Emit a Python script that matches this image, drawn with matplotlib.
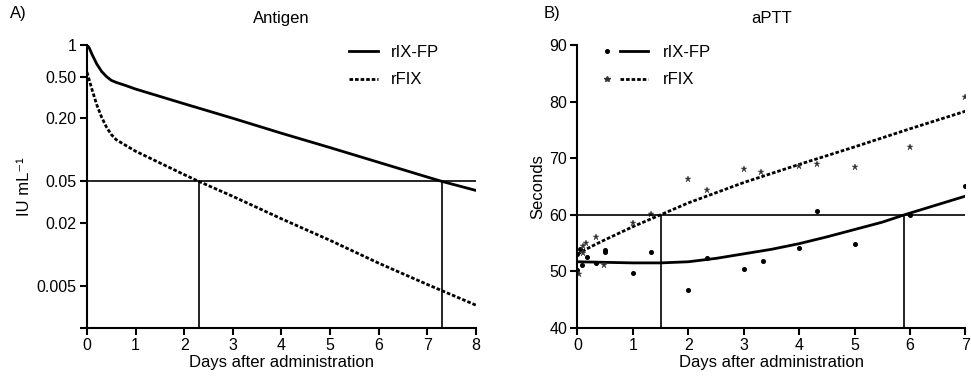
import matplotlib
matplotlib.use("Agg")
import matplotlib.pyplot as plt
from matplotlib.lines import Line2D
from matplotlib.legend_handler import HandlerTuple

plt.rcParams['font.family'] = ['Liberation Sans', 'DejaVu Sans']
plt.rcParams['font.size'] = 12

# ---------------- A) Antigen ----------------
ag_fp_days = [0, 0.05, 0.1, 0.2, 0.3, 0.4, 0.5, 0.6, 0.8, 1, 2, 3, 4, 5, 6, 7, 7.3, 8]
ag_fp_vals = [1.0, 0.93, 0.82, 0.66, 0.56, 0.50, 0.46, 0.44, 0.41, 0.38,
              0.275, 0.20, 0.144, 0.105, 0.076, 0.055, 0.05, 0.041]
ag_fix_days = [0, 0.1, 0.2, 0.3, 0.4, 0.5, 0.6, 0.8, 1, 2, 2.3, 3, 4, 5, 6, 7, 8]
ag_fix_vals = [0.55, 0.38, 0.27, 0.205, 0.165, 0.14, 0.125, 0.11, 0.097,
               0.058, 0.05, 0.036, 0.022, 0.0137, 0.0083, 0.0052, 0.0033]
ag_level = 0.05
ag_cross = [2.3, 7.3]
ag_yticks = [1, 0.5, 0.2, 0.05, 0.02, 0.005, 0.002]
ag_ylabels = ['1', '0.50', '0.20', '0.05', '0.02', '0.005', '']

# ---------------- B) aPTT ----------------
ap_fp_days = [0, 0.5, 1, 1.5, 2, 2.5, 3, 3.5, 4, 4.5, 5, 5.5, 5.9, 6, 6.5, 7]
ap_fp_vals = [51.7, 51.6, 51.5, 51.5, 51.7, 52.3, 53.1, 53.9, 54.9, 56.1,
              57.4, 58.7, 60.0, 60.3, 61.8, 63.3]
ap_fix_days = [0, 0.1, 0.25, 0.5, 1, 1.5, 2, 3, 4, 5, 6, 7]
ap_fix_vals = [53.0, 53.6, 54.4, 55.6, 57.9, 60.0, 62.1, 65.7, 68.9, 72.0, 75.2, 78.3]

ap_fp_pts_x = [0, 0, 0.05, 0.08, 0.17, 0.33, 0.5, 0.5, 1.0, 1.32, 2.0, 2.33,
               3.0, 3.34, 4.0, 4.32, 5.0, 6.0, 7.0]
ap_fp_pts_y = [53.0, 50.3, 53.9, 51.1, 52.6, 51.5, 53.7, 53.5, 49.7, 53.5, 46.7, 52.4,
               50.5, 51.9, 54.1, 60.6, 54.8, 59.9, 65.0]
ap_fix_pts_x = [0.03, 0.1, 0.1, 0.15, 0.33, 0.48, 1.0, 1.32, 2.0, 2.33,
                3.0, 3.32, 4.0, 4.32, 5.0, 6.0, 7.0]
ap_fix_pts_y = [49.6, 53.3, 54.4, 55.1, 56.0, 51.1, 58.5, 60.1, 66.3, 64.3,
                68.1, 67.5, 68.6, 68.9, 68.5, 71.9, 80.9]
ap_level = 60
ap_cross = [1.5, 5.9]

dash = (0, (1.3, 0.7))

fig = plt.figure(figsize=(9.71, 3.82), dpi=100)
ax1 = fig.add_axes([0.0896, 0.1414, 0.4006, 0.7408])
ax2 = fig.add_axes([0.5947, 0.1414, 0.3996, 0.7408])

for ax in (ax1, ax2):
    for s in ('top', 'right'):
        ax.spines[s].set_visible(False)
    for s in ('left', 'bottom'):
        ax.spines[s].set_linewidth(1.5)
    ax.tick_params(direction='out', width=1.5, length=5, labelsize=11.5, pad=2.5)

# A
ax1.set_yscale('log')
ax1.plot(ag_fp_days, ag_fp_vals, color='black', lw=2.0, label='rIX-FP')
ax1.plot(ag_fix_days, ag_fix_vals, color='black', lw=2.0, ls=dash, label='rFIX')
ax1.axhline(ag_level, color='black', lw=1.2)
ax1.vlines(ag_cross, 0.002, ag_level, color='black', lw=1.2)
ax1.set_xlim(0, 8)
ax1.set_ylim(0.002, 1)
ax1.set_xticks(range(0, 9))
ax1.set_yticks(ag_yticks)
ax1.set_yticklabels(ag_ylabels)
ax1.minorticks_off()
ax1.set_xlabel('Days after administration', labelpad=1)
ax1.set_ylabel('IU mL⁻¹', labelpad=3)
ax1.set_title('Antigen', fontsize=12, pad=16)
ax1.legend(loc='upper left', bbox_to_anchor=(0.674, 1.0), frameon=False,
           borderpad=0, borderaxespad=0,
           handlelength=1.75, handletextpad=0.75, labelspacing=0.75)

# B
ax2.plot(ap_fp_days, ap_fp_vals, color='black', lw=2.0)
ax2.plot(ap_fix_days, ap_fix_vals, color='black', lw=2.0, ls=dash)
ax2.plot(ap_fp_pts_x, ap_fp_pts_y, ls='none', marker='o', ms=2.6, color='black')
ax2.plot(ap_fix_pts_x, ap_fix_pts_y, ls='none', marker='*', ms=5, color='#333333',
         markeredgewidth=0.3)
ax2.axhline(ap_level, color='black', lw=1.2)
ax2.vlines(ap_cross, 40, ap_level, color='black', lw=1.2)
ax2.set_xlim(0, 7)
ax2.set_ylim(40, 90)
ax2.set_xticks(range(0, 8))
ax2.set_yticks(range(40, 91, 10))
ax2.set_xlabel('Days after administration', labelpad=1)
ax2.set_ylabel('Seconds', labelpad=3)
ax2.set_title('aPTT', fontsize=12, pad=16)

h_fp = (Line2D([], [], ls='none', marker='o', ms=2.6, color='black'),
        Line2D([], [], color='black', lw=2.0))
h_fix = (Line2D([], [], ls='none', marker='*', ms=4, color='#333333'),
         Line2D([], [], color='black', lw=2.0, ls=dash))
ax2.legend([h_fp, h_fix], ['rIX-FP', 'rFIX'], loc='upper left',
           bbox_to_anchor=(0.04, 1.0), frameon=False,
           borderpad=0, borderaxespad=0,
           handler_map={tuple: HandlerTuple(ndivide=None, pad=0)},
           handlelength=3.3, handletextpad=0.9, labelspacing=0.75)

fig.text(0.010, 0.965, 'A)', fontsize=12, va='center')
fig.text(0.560, 0.965, 'B)', fontsize=12, va='center')

fig.savefig('out.png', dpi=100)
